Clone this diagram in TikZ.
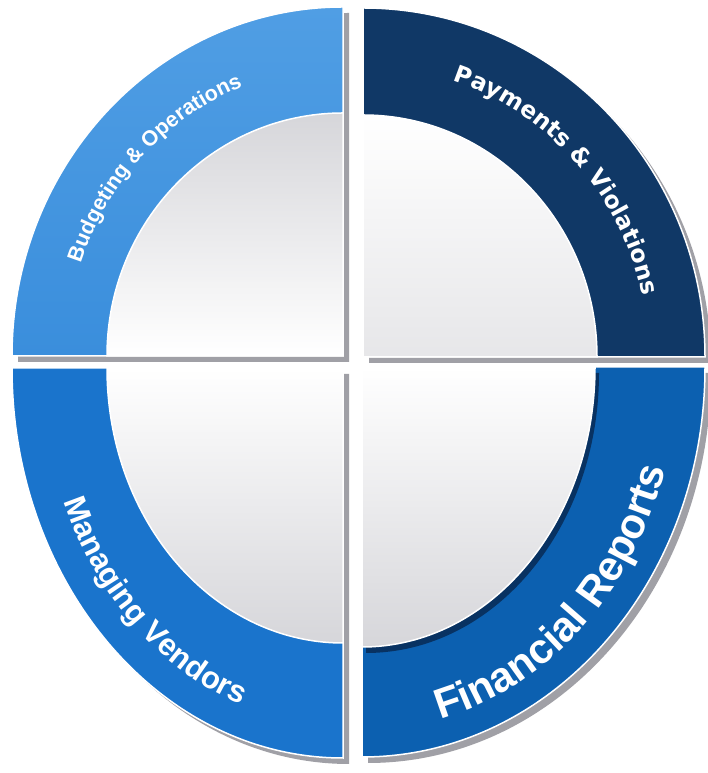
\documentclass[tikz,border=0pt]{standalone}
\usepackage{fontspec}
\usetikzlibrary{decorations.text}
\newfontfamily\lsans{Liberation Sans}
\newfontfamily\dvsans{DejaVu Sans}
\definecolor{ringTL}{RGB}{58,142,220}
\definecolor{ringTLlight}{RGB}{80,158,228}
\definecolor{ringTR}{RGB}{16,56,102}
\definecolor{ringBL}{RGB}{26,116,204}
\definecolor{ringBR}{RGB}{12,96,176}
\definecolor{ringBRdark}{RGB}{8,50,98}
\definecolor{dropshade}{RGB}{160,160,166}
\definecolor{discgray}{RGB}{214,214,218}
\begin{document}
\begin{tikzpicture}[x=1pt,y=1pt,
  arclabel/.style={decorate, decoration={text along path, text align=center, text color=white, #1}},
  edge/.style={draw=white, line width=1.5pt},
  drop/.style={fill=dropshade}]
\useasboundingbox (0,0) rectangle (708,773);
\fill[white] (0,0) rectangle (708,773);

% corners of the four quadrants
\coordinate (TL) at (343,417);
\coordinate (TR) at (363,416);
\coordinate (BL) at (343,405);
\coordinate (BR) at (362,406);

% ---------- top left: Budgeting & Operations ----------
\fill[drop] ([shift={(6,-6)}]TL) -- ++(180:331 and 349) arc[start angle=180, end angle=90, x radius=331, y radius=349] -- cycle;
\shadedraw[top color=ringTLlight, bottom color=ringTL, edge] (TL) -- ++(180:331 and 349) arc[start angle=180, end angle=90, x radius=331, y radius=349] -- cycle;
\shadedraw[shading angle=135, top color=discgray, bottom color=white, edge] (TL) -- ++(180:236 and 243) arc[start angle=180, end angle=90, x radius=236, y radius=243] -- cycle;
\path[arclabel={text={|\lsans\bfseries\fontsize{21.5}{26}\selectfont|Budgeting {\&} Operations}}]
  ([shift={(174:277 and 289)}]TL) arc[start angle=174, end angle=98, x radius=277, y radius=289];

% ---------- top right: Payments & Violations ----------
\fill[drop] ([shift={(6,-6)}]TR) -- ++(90:342 and 349) arc[start angle=90, end angle=0, x radius=342, y radius=349] -- cycle;
\filldraw[fill=ringTR, edge] (TR) -- ++(90:342 and 349) arc[start angle=90, end angle=0, x radius=342, y radius=349] -- cycle;
\shadedraw[top color=white, bottom color=discgray!60, edge] (TR) -- ++(90:234 and 242) arc[start angle=90, end angle=0, x radius=234, y radius=242] -- cycle;
\path[arclabel={text={|\dvsans\bfseries\fontsize{23.5}{28}\selectfont|Payments {\&} Violations}}]
  ([shift={(82:286 and 291)}]TR) arc[start angle=82, end angle=2, x radius=286, y radius=291];

% ---------- bottom left: Managing Vendors ----------
\fill[drop] ([shift={(6,-6)}]BL) -- ++(270:331 and 390) arc[start angle=270, end angle=180, x radius=331, y radius=390] -- cycle;
\filldraw[fill=ringBL, edge] (BL) -- ++(270:331 and 390) arc[start angle=270, end angle=180, x radius=331, y radius=390] -- cycle;
\shadedraw[top color=white, bottom color=discgray, edge] (BL) -- ++(270:236 and 275) arc[start angle=270, end angle=180, x radius=236, y radius=275] -- cycle;
\path[arclabel={text={|\lsans\bfseries\fontsize{31}{36}\selectfont|Managing Vendors}}]
  ([shift={(190:301 and 358)}]BL) arc[start angle=190, end angle=264, x radius=301, y radius=358];

% ---------- bottom right: Financial Reports ----------
\fill[drop] ([shift={(6,-6)}]BR) -- ++(0:343 and 390) arc[start angle=0, end angle=-90, x radius=343, y radius=390] -- cycle;
\filldraw[fill=ringBR, edge] (BR) -- ++(0:343 and 390) arc[start angle=0, end angle=-90, x radius=343, y radius=390] -- cycle;
\fill[ringBRdark] ([shift={(4,-6)}]BR) -- ++(0:233 and 280) arc[start angle=0, end angle=-90, x radius=233, y radius=280] -- cycle;
\shadedraw[top color=white, bottom color=discgray, edge] (BR) -- ++(0:233 and 280) arc[start angle=0, end angle=-90, x radius=233, y radius=280] -- cycle;
\path[arclabel={text={|\lsans\bfseries\fontsize{42}{48}\selectfont|Financial Reports}}]
  ([shift={(275:316 and 364)}]BR) arc[start angle=275, end angle=352, x radius=316, y radius=364];
\end{tikzpicture}
\end{document}
